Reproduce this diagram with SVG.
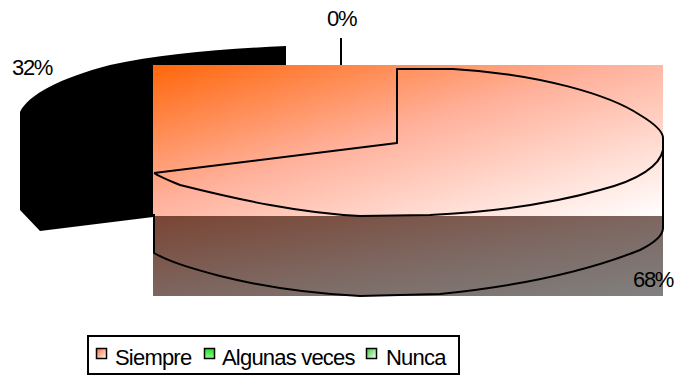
<svg xmlns="http://www.w3.org/2000/svg" width="678" height="377" viewBox="0 0 678 377">
  <defs>
    <linearGradient id="gTop" x1="0" y1="0" x2="1" y2="1">
      <stop offset="0" stop-color="#FF660A"/>
      <stop offset="0.45" stop-color="#FFB09A"/>
      <stop offset="1" stop-color="#FFFFFF"/>
    </linearGradient>
    <linearGradient id="gSide" x1="0" y1="0" x2="1" y2="1">
      <stop offset="0" stop-color="#7A4534"/>
      <stop offset="0.5" stop-color="#7D665F"/>
      <stop offset="1" stop-color="#808080"/>
    </linearGradient>
    <linearGradient id="gSiempre" x1="0" y1="0" x2="1" y2="1">
      <stop offset="0" stop-color="#FF6633"/>
      <stop offset="1" stop-color="#FFFFFF"/>
    </linearGradient>
    <linearGradient id="gAlgunas" x1="0" y1="0" x2="0" y2="1">
      <stop offset="0" stop-color="#22DD22"/>
      <stop offset="1" stop-color="#88FF88"/>
    </linearGradient>
    <linearGradient id="gNunca" x1="0" y1="0" x2="1" y2="1">
      <stop offset="0" stop-color="#33CC33"/>
      <stop offset="1" stop-color="#FFFFFF"/>
    </linearGradient>
  </defs>
  <style>
    .lbl { font-family: "Liberation Sans", Arial, sans-serif; font-size: 22px; fill: #000; letter-spacing: -1.3px; }
    .leg { font-family: "Liberation Sans", Arial, sans-serif; font-size: 22px; fill: #000; letter-spacing: -0.8px; }
    .edge { fill: none; stroke: #000; stroke-width: 2; stroke-linejoin: round; }
    .key { stroke: #000; stroke-width: 1.5; }
  </style>

  <g id="slice-nunca">
    <path d="M20,112 C28,95 60,78 110,65 C160,54 220,49 286,46 L286,65 L153,65 L153,217 L40,231 L20,210 Z" fill="#000"/>
  </g>

  <g id="slice-siempre">
    <rect x="153" y="65" width="510" height="151" fill="url(#gTop)"/>
    <rect x="153" y="216" width="510" height="80" fill="url(#gSide)"/>
  </g>

  <g id="connectors">
    <path class="edge" d="M154,173 L397,143 L397,69 L453,69 C540,74 610,95 640,115 C655,124 663,131 663,138 L663,150 C660,165 640,180 600,190 C550,204 490,212 430,215 L360,216 C300,213 240,200 180,185 C168,180 160,177 154,173"/>
    <path class="edge" d="M154,214 L154,253 C170,262 190,268 220,276 C260,286 300,293 360,296 L440,294 C520,286 590,270 640,250 C656,242 663,235 663,228 L663,150"/>
    <line class="edge" x1="341" y1="38" x2="341" y2="65"/>
  </g>

  <g id="labels">
    <text class="lbl" x="327" y="26">0%</text>
    <text class="lbl" x="12" y="75">32%</text>
    <text class="lbl" x="633" y="287">68%</text>
  </g>

  <g id="legend">
    <rect x="88" y="336" width="371" height="38" fill="#fff" stroke="#000" stroke-width="2"/>
    <rect class="key" x="96.5" y="348.5" width="10" height="10" fill="url(#gSiempre)"/>
    <text class="leg" x="115" y="365">Siempre</text>
    <rect class="key" x="204.5" y="348.5" width="10" height="10" fill="url(#gAlgunas)"/>
    <text class="leg" x="222" y="365">Algunas veces</text>
    <rect class="key" x="366.5" y="348.5" width="10" height="10" fill="url(#gNunca)"/>
    <text class="leg" x="386" y="365">Nunca</text>
  </g>
</svg>
